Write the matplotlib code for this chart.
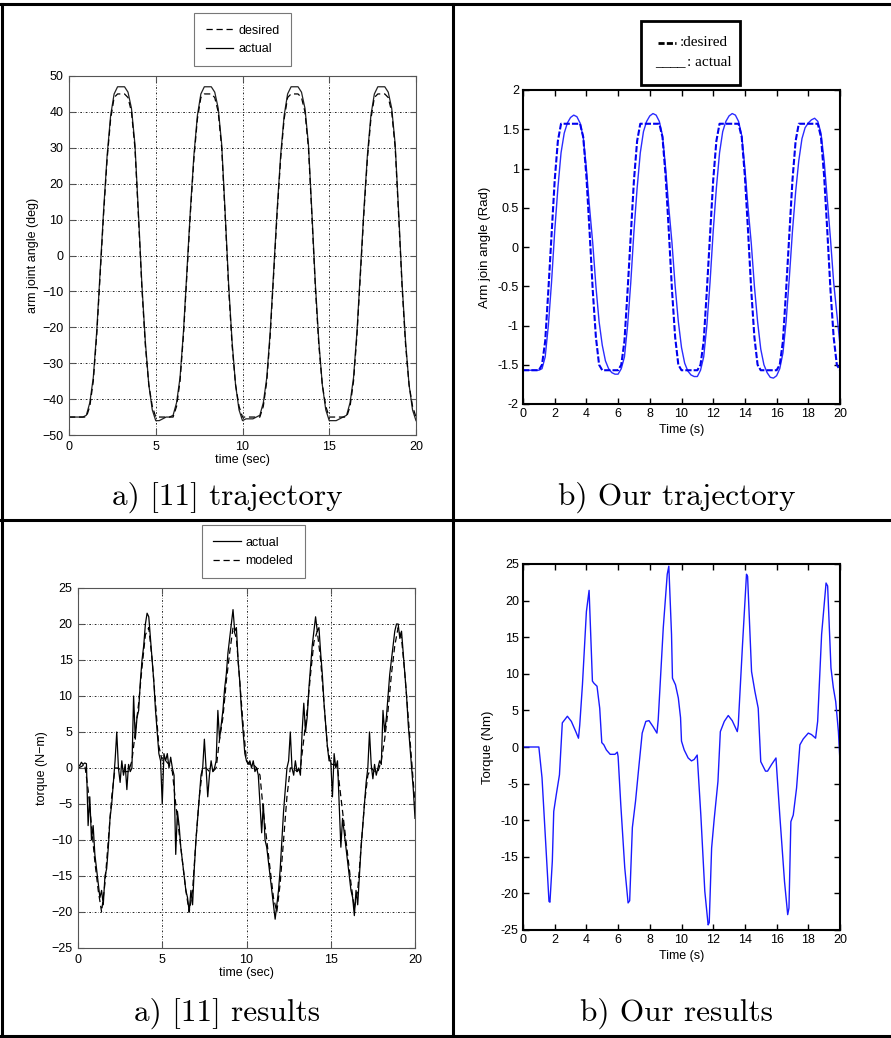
import matplotlib.pyplot as plt
import numpy as np
from matplotlib.lines import Line2D
from matplotlib.patches import Rectangle
from matplotlib import font_manager

W, H = 891, 1038

# --- a) [11] trajectory : arm joint angle (deg), sampled every 0.2 s
t_traj = np.linspace(0, 20, 101)
angle_desired = [
    -45, -45, -45, -45, -45, -45, -42, -35, -22, -5, 12, 27, 38, 44, 45, 45, 45, 44, 40, 30, 11, -9, -25, -36, -42,
    -45, -45, -45, -45, -45, -45, -42, -35, -22, -5, 12, 27, 38, 44, 45, 45, 45, 44, 40, 30, 11, -9, -25, -36, -42,
    -45, -45, -45, -45, -45, -45, -42, -35, -22, -5, 12, 27, 38, 44, 45, 45, 45, 44, 40, 30, 11, -9, -25, -36, -42,
    -45, -45, -45, -45, -45, -45, -42, -35, -22, -5, 12, 27, 38, 44, 45, 45, 45, 44, 40, 30, 11, -9, -25, -36, -42,
    -45]
angle_actual = [
    -45, -45, -45, -45, -45, -44.5, -41, -34, -21, -4, 13, 28, 39, 45, 47, 47, 47, 45.5, 41, 31, 12, -8, -24, -36, -43,
    -46, -46, -45.5, -45, -45, -44.5, -41, -34, -21, -4, 13, 28, 39, 45, 47, 47, 47, 45.5, 41, 31, 12, -8, -24, -36, -43,
    -46, -45.5, -45.5, -45.5, -45, -44.5, -41, -34, -21, -4, 13, 28, 39, 45, 47, 47, 47, 45.5, 41, 31, 12, -8, -24, -36, -43,
    -46, -46, -46, -45.5, -45, -44.5, -41, -34, -21, -4, 13, 28, 39, 45, 47, 47, 47, 45.5, 41, 31, 12, -8, -24, -36, -43,
    -46]

# --- b) Our trajectory : arm joint angle (rad), sampled every 0.2 s
rad_desired = [
    -1.57, -1.57, -1.57, -1.57, -1.57, -1.57, -1.5, -1.2, -0.55, 0.15, 0.85, 1.35,
    1.57, 1.57, 1.57, 1.57, 1.57, 1.57, 1.57, 1.4, 0.9, 0.2, -0.55, -1.15, -1.5,
    -1.57, -1.57, -1.57, -1.57, -1.57, -1.57, -1.5, -1.2, -0.55, 0.15, 0.85, 1.35,
    1.57, 1.57, 1.57, 1.57, 1.57, 1.57, 1.57, 1.4, 0.9, 0.2, -0.55, -1.15, -1.5,
    -1.57, -1.57, -1.57, -1.57, -1.57, -1.57, -1.5, -1.2, -0.55, 0.15, 0.85, 1.35,
    1.57, 1.57, 1.57, 1.57, 1.57, 1.57, 1.57, 1.4, 0.9, 0.2, -0.55, -1.15, -1.5,
    -1.57, -1.57, -1.57, -1.57, -1.57, -1.57, -1.5, -1.2, -0.55, 0.15, 0.85, 1.35,
    1.57, 1.57, 1.57, 1.57, 1.57, 1.57, 1.57, 1.4, 0.9, 0.2, -0.55, -1.15, -1.5,
    -1.57]
rad_actual = [
    -1.57, -1.57, -1.57, -1.57, -1.57, -1.57, -1.55, -1.4, -1.0, -0.45, 0.2, 0.75, 1.2,
    1.45, 1.58, 1.65, 1.68, 1.66, 1.58, 1.4, 1.0, 0.5, 0.05, -0.5, -0.95,
    -1.25, -1.45, -1.55, -1.6, -1.62, -1.62, -1.55, -1.4, -1.0, -0.45, 0.2, 0.75, 1.2,
    1.47, 1.6, 1.67, 1.7, 1.68, 1.6, 1.42, 1.0, 0.5, 0.05, -0.5, -0.95,
    -1.28, -1.48, -1.58, -1.63, -1.65, -1.65, -1.57, -1.4, -1.0, -0.45, 0.2, 0.75, 1.2,
    1.47, 1.6, 1.67, 1.7, 1.68, 1.6, 1.42, 1.0, 0.5, 0.05, -0.5, -0.95,
    -1.3, -1.5, -1.6, -1.66, -1.67, -1.64, -1.55, -1.35, -0.95, -0.4, 0.2, 0.7, 1.1,
    1.38, 1.52, 1.58, 1.62, 1.64, 1.6, 1.45, 1.1, 0.6, 0.1, -0.45, -0.85,
    -1.25]

# --- a) [11] results : torque (N-m)
t_model = np.linspace(0, 20, 101)
torque_modeled = [
    0, 0.2, 0.5, -3, -8, -13, -17, -20, -16, -10, -4, 0, 0, -0.5, -0.5, -0.5, 1, 5, 9, 14, 18.5, 19.5, 15, 9, 3,
    1, 1, 0.5, -0.5, -5, -9, -13, -17, -20, -17, -10, -4, 0, 0, -0.5, -0.5, 0, 4, 7, 12, 16, 19.5, 18, 12, 6,
    1, 0.5, 0.5, 0, -1, -6, -10, -14, -18, -20, -16, -10, -4, 0, 0, -0.5, 0, 4, 8, 13, 17.5, 19, 15, 9, 3,
    0.5, 0.5, 0, -4, -8, -12, -16, -19.5, -17, -11, -5, -1, 0, -0.5, -0.5, 1, 4, 8, 13, 17, 19.5, 18, 13, 7, 1,
    -5]
t_meas = np.linspace(0, 20, 201)
torque_actual = [
    0.5, 0.3, 0.8, 0.5, 0.7, 0.6, -8, -4, -10, -8, -12, -14, -16, -18, -17, -19, -15, -14, -11, -7,
    -5, -2, 1, 5, 0, -2, 1, -1, 0.5, -3, 0.5, -0.5, 0, 10, 4, 7, 8, 12, 15, 17,
    20, 21.5, 21, 18, 15, 12, 8, 5, 2, 1, -5, 2, 1, 2, 0, 1.5, 0, -1, -12, -6,
    -8, -11, -13, -15, -17, -18, -20, -17, -19, -14, -10, -7, -4, -1, 0, 4, 0, -4, -1, 1,
    -0.5, 0, 1, 8, 4, 6, 8, 11, 13, 16, 18, 20, 22, 19, 19.5, 15, 12, 8, 5, 2,
    1, 0.5, 1, 0, 1, -0.5, 0, -1, -5, -9, -5, -10, -11, -13, -15, -17, -19, -21, -19, -17,
    -14, -10, -6, -3, 0, 1, 5, 0, -1, 1, -0.5, 0, -1, 5, 9, 5, 7, 11, 14, 17,
    19, 21, 19, 19.5, 16, 13, 9, 6, 3, 1, 1, -4, 2, 0, 1, -5, -11, -7, -9, -11,
    -13, -15, -17, -18, -20.5, -17, -19, -15, -11, -8, -5, -2, 0, 5, 0.5, -1.5, 0.5, -1, 0, 1,
    0.5, 8, 5, 7, 10, 13, 15, 17, 19, 20, 20, 18, 19, 16, 13, 10, 6, 3, 0, -3,
    -7]

# --- b) Our results : torque (Nm)
t_ours = [0, 1.0, 1.2, 1.64, 1.7, 1.85, 1.94, 2.1, 2.3, 2.48, 2.8, 3.05, 3.33, 3.5, 3.58, 3.75, 4.0,
          4.17, 4.38, 4.48, 4.67, 4.84, 4.97, 5.1, 5.26, 5.5, 5.8, 5.95, 6.0, 6.17, 6.42, 6.63, 6.73,
          6.9, 7.1, 7.3, 7.52, 7.75, 7.95, 8.2, 8.45, 8.53, 8.85, 9.1, 9.2, 9.37, 9.43, 9.62, 9.8, 9.94,
          10.0, 10.17, 10.42, 10.63, 10.8, 10.99, 11.22, 11.47, 11.68, 11.75, 11.9, 12.06, 12.3, 12.45,
          12.7, 12.95, 13.2, 13.52, 13.58, 13.85, 14.1, 14.17, 14.42, 14.63, 14.84, 15.0, 15.3, 15.43,
          15.68, 15.96, 16.2, 16.5, 16.7, 16.78, 16.9, 17.05, 17.26, 17.47, 17.68, 18.0, 18.2, 18.46,
          18.59, 18.84, 19.12, 19.22, 19.43, 19.58, 19.73, 19.9, 20.0]
torque_ours = [0, 0, -4.2, -21.1, -21.2, -15.6, -8.8, -6.5, -3.8, 3.3, 4.2, 3.5, 2.1, 1.2, 3, 8.5, 18.5,
               21.4, 9, 8.7, 8.3, 5.3, 0.6, 0.3, -0.4, -1, -1, -0.7, -1.3, -7.9, -16.5, -21.3, -21,
               -11, -7.4, -2.9, 1.9, 3.5, 3.6, 2.8, 1.9, 3.7, 16.3, 23.6, 24.7, 15.4, 9.4, 8.5, 6.7, 4,
               0.8, -0.4, -1.5, -1.9, -1.7, -1.1, -9.3, -19.7, -24.3, -24, -13.8, -9.9, -4.7, 2.1,
               3.5, 4.3, 3.6, 2.1, 3, 14, 23.6, 23.3, 10.3, 7.6, 5.3, -2, -3.3, -3.3,
               -2.4, -1.5, -9.3, -18.4, -22.9, -22, -10.2, -9.3, -5.6, 0.3, 1.1, 1.9, 1.7, 1.2,
               3.5, 15.4, 22.4, 22, 10.8, 8.1, 6.2, 2.1, -2]

# tick labels of the right-hand (b) panels use a plain hyphen
rad_ticks = [-2, -1.5, -1, -0.5, 0, 0.5, 1, 1.5, 2]
rad_labels = ['-2', '-1.5', '-1', '-0.5', '0', '0.5', '1', '1.5', '2']
nm_ticks = [-25, -20, -15, -10, -5, 0, 5, 10, 15, 20, 25]
nm_labels = ['-25', '-20', '-15', '-10', '-5', '0', '5', '10', '15', '20', '25']

available = {f.name for f in font_manager.fontManager.ttflist}
narrow = 'Liberation Sans Narrow' if 'Liberation Sans Narrow' in available else 'Liberation Sans'
narrow_size = 10 if narrow == 'Liberation Sans Narrow' else 9
plt.rcParams['font.family'] = ['Liberation Sans', 'DejaVu Sans']


def frac_box(l, t, r, b):
    # pixel box (left, top, right, bottom) -> figure fraction rect
    return [l / W, 1 - b / H, (r - l) / W, (b - t) / H]


def matlab_old(ax):
    # old matlab look: grey frame, dotted grid, inward ticks
    for s in ax.spines.values():
        s.set_color('#555555')
        s.set_linewidth(0.8)
    ax.grid(True, color='black', linestyle=(0, (2, 2, 0.5, 2)), linewidth=0.6)
    ax.tick_params(direction='in', length=4, top=True, right=True, labelsize=9, pad=4,
                   color='#555555')


def matlab_new(ax):
    for s in ax.spines.values():
        s.set_color('black')
        s.set_linewidth(1.5)
    ax.tick_params(direction='in', length=4, width=1, top=True, right=True,
                   labelsize=narrow_size, pad=3)
    for lab in ax.get_xticklabels() + ax.get_yticklabels():
        lab.set_family(narrow)


fig = plt.figure(figsize=(W / 100, H / 100), dpi=100)

# a) [11] trajectory
ax1 = fig.add_axes(frac_box(69, 76, 416, 435))
ax1.plot(t_traj, angle_actual, color='#222222', lw=0.9, label='actual')
ax1.plot(t_traj, angle_desired, color='black', lw=0.9, linestyle=(0, (5, 3)), label='desired')
ax1.set_xlim(0, 20)
ax1.set_ylim(-50, 50)
ax1.set_xticks([0, 5, 10, 15, 20])
ax1.set_yticks(np.arange(-50, 51, 10))
matlab_old(ax1)
ax1.set_xlabel('time (sec)', fontsize=9, labelpad=1)
ax1.set_ylabel('arm joint angle (deg)', fontsize=9, labelpad=2)
h = [Line2D([], [], color='black', lw=0.9, linestyle=(0, (5, 3))),
     Line2D([], [], color='black', lw=0.9)]
leg = ax1.legend(h, ['desired', 'actual'], loc='lower center', bbox_to_anchor=(0.5, 1.01),
                 fontsize=9, frameon=True, fancybox=False, handlelength=2.2,
                 borderpad=0.9, labelspacing=0.5, handletextpad=0.4)
leg.get_frame().set_edgecolor('#555555')
leg.get_frame().set_linewidth(0.8)

# b) Our trajectory
ax2 = fig.add_axes(frac_box(523, 90, 840, 404))
ax2.plot(t_traj, rad_actual, color='#2b2bff', lw=1.0)
ax2.plot(t_traj, rad_desired, color='#0000ee', lw=1.5, linestyle=(0, (3, 1)))
ax2.set_xlim(0, 20)
ax2.set_ylim(-2, 2)
ax2.set_xticks(np.arange(0, 21, 2))
ax2.set_yticks(rad_ticks, rad_labels)
matlab_new(ax2)
ax2.set_xlabel('Time (s)', fontsize=narrow_size, family=narrow, labelpad=3)
ax2.set_ylabel('Arm join angle (Rad)', fontsize=9.5, labelpad=5)

# hand-made legend box of panel b
fig.add_artist(Rectangle((641 / W, 1 - 85 / H), 99 / W, 64 / H, transform=fig.transFigure,
                         fill=False, edgecolor='black', linewidth=2))
fig.add_artist(Line2D([658 / W, 676 / W], [1 - 43 / H, 1 - 43 / H], transform=fig.transFigure,
                      color='black', lw=2, linestyle=(0, (2.2, 0.8))))
fig.text(680 / W, 1 - 42 / H, ':desired', fontsize=11, family='Liberation Serif',
         ha='left', va='center')
fig.text(655 / W, 1 - 63 / H, '____', fontsize=11, family='Liberation Serif',
         ha='left', va='center')
fig.text(687 / W, 1 - 63 / H, ': actual', fontsize=11, family='Liberation Serif',
         ha='left', va='center')

# a) [11] results
ax3 = fig.add_axes(frac_box(78, 588, 415, 948))
ax3.plot(t_meas, torque_actual, color='black', lw=0.9)
ax3.plot(t_model, torque_modeled, color='black', lw=0.9, linestyle=(0, (5, 3)))
ax3.set_xlim(0, 20)
ax3.set_ylim(-25, 25)
ax3.set_xticks([0, 5, 10, 15, 20])
ax3.set_yticks(np.arange(-25, 26, 5))
matlab_old(ax3)
ax3.set_xlabel('time (sec)', fontsize=9, labelpad=1)
ax3.set_ylabel('torque (N\u2212m)', fontsize=9, labelpad=2)
h = [Line2D([], [], color='black', lw=0.9),
     Line2D([], [], color='black', lw=0.9, linestyle=(0, (5, 3)))]
leg = ax3.legend(h, ['actual', 'modeled'], loc='lower center', bbox_to_anchor=(0.52, 1.01),
                 fontsize=9, frameon=True, fancybox=False, handlelength=2.2,
                 borderpad=0.9, labelspacing=0.5, handletextpad=0.4)
leg.get_frame().set_edgecolor('#555555')
leg.get_frame().set_linewidth(0.8)

# b) Our results
ax4 = fig.add_axes(frac_box(523, 564, 840, 930))
ax4.plot(t_ours, torque_ours, color='#1a1aff', lw=1.0)
ax4.set_xlim(0, 20)
ax4.set_ylim(-25, 25)
ax4.set_xticks(np.arange(0, 21, 2))
ax4.set_yticks(nm_ticks, nm_labels)
matlab_new(ax4)
ax4.set_xlabel('Time (s)', fontsize=narrow_size, family=narrow, labelpad=3)
ax4.set_ylabel('Torque (Nm)', fontsize=9.5, labelpad=5)

# captions
cap = dict(fontsize=22.5, family='cmr10', ha='center', va='center')
fig.text(227 / W, 1 - 497 / H, 'a) [11] trajectory', **cap)
fig.text(677 / W, 1 - 497 / H, 'b) Our trajectory', **cap)
fig.text(227 / W, 1 - 1013 / H, 'a) [11] results', **cap)
fig.text(677 / W, 1 - 1013 / H, 'b) Our results', **cap)

# table rules
rules = [((0, 891), (4, 4)), ((0, 891), (520, 520)), ((0, 891), (1036, 1036)),
         ((2, 2), (4, 1036)), ((453, 453), (4, 1036))]
for xs, ys in rules:
    fig.add_artist(Line2D([x / W for x in xs], [1 - y / H for y in ys],
                          transform=fig.transFigure, color='black', lw=2.2))

fig.savefig('out.png', dpi=100)
